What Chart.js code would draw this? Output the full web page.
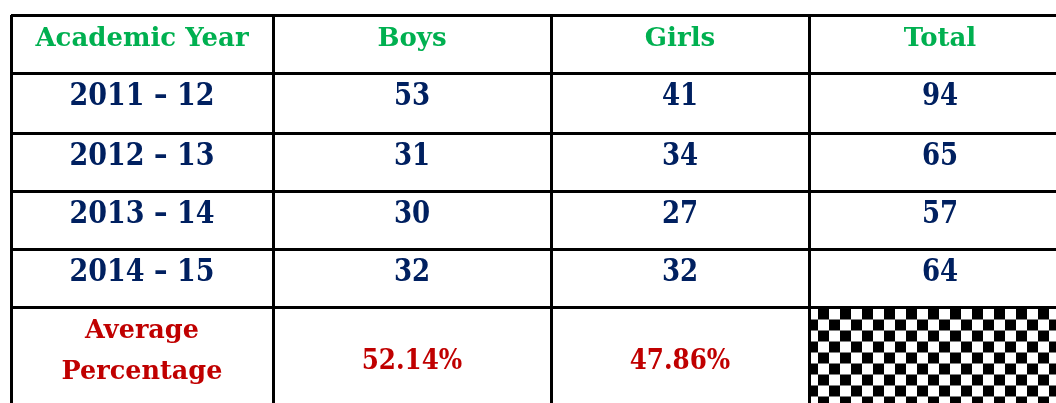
<!DOCTYPE html>
<html>
<head>
<meta charset="utf-8">
<script src="https://cdn.jsdelivr.net/npm/chart.js@4.4.1/dist/chart.umd.min.js"></script>
<style>
  html, body { margin: 0; padding: 0; background: #fff; }
  #wrap { width: 1056px; height: 403px; }
</style>
</head>
<body>
<div id="wrap"><canvas id="table"></canvas></div>
<script>
const HEADERS = ['Academic Year', 'Boys', 'Girls', 'Total'];
const YEARS = ['2011 – 12', '2012 – 13', '2013 – 14', '2014 – 15'];
const BOYS = [53, 31, 30, 32];
const GIRLS = [41, 34, 27, 32];
const TOTAL = [94, 65, 57, 64];
const AVG_LABEL = ['Average', 'Percentage'];
const AVG_PCT = ['52.14%', '47.86%'];

// table layout in px, measured from the top-left border
const COL_EDGES = [0, 262, 540, 798, 1060];
const ROW_EDGES = [0, 58, 118, 176, 234, 292.5, 396];

const GREEN = '#00B050';
const NAVY = '#002060';
const RED = '#C00000';
const FONT = '"DejaVu Serif", serif';

const colMid = (c) => (COL_EDGES[c] + COL_EDGES[c + 1]) / 2;

// one dataset = a group of cells sharing a text style
// squeeze narrows the glyphs a bit, the original font has slim digits
function cells(points, texts, color, size, baseline, squeeze = 1) {
  return {
    data: points.map(([c, r]) => ({ x: colMid(c), y: ROW_EDGES[r] })),
    texts, color, size, baseline, squeeze,
    pointRadius: 0,
  };
}

const datasets = [
  cells(HEADERS.map((_, c) => [c, 0]), HEADERS, GREEN, 26, 30.5),
  cells(YEARS.map((_, i) => [0, i + 1]), YEARS, NAVY, 31, 32, 0.87),
  cells(BOYS.map((_, i) => [1, i + 1]), BOYS, NAVY, 31, 32, 0.84),
  cells(GIRLS.map((_, i) => [2, i + 1]), GIRLS, NAVY, 31, 32, 0.84),
  cells(TOTAL.map((_, i) => [3, i + 1]), TOTAL, NAVY, 31, 32, 0.84),
  cells([[0, 5]], [AVG_LABEL], RED, 25.5, 30.5),
  cells(AVG_PCT.map((_, i) => [i + 1, 5]), AVG_PCT, RED, 28, 61.5, 0.88),
];

// checkered fill in the empty Total cell of the last row
const checker = {
  id: 'checker',
  beforeDatasetsDraw(chart) {
    const { ctx, chartArea, scales: { x, y } } = chart;
    const x0 = x.getPixelForValue(COL_EDGES[3]) - 2;
    const y0 = y.getPixelForValue(ROW_EDGES[5]) + 1;
    const sq = 11;
    ctx.save();
    ctx.beginPath();
    ctx.rect(x0 + 3, y0, chartArea.right - x0, chartArea.bottom - y0);
    ctx.clip();
    ctx.fillStyle = '#000';
    for (let r = 0; y0 + r * sq < chartArea.bottom; r++) {
      for (let c = 0; x0 + c * sq < chartArea.right; c++) {
        if ((r + c) % 2 === 1) ctx.fillRect(x0 + c * sq, y0 + r * sq, sq, sq);
      }
    }
    ctx.restore();
  },
};

const cellText = {
  id: 'cellText',
  afterDatasetsDraw(chart) {
    const { ctx } = chart;
    chart.data.datasets.forEach((ds, i) => {
      chart.getDatasetMeta(i).data.forEach((pt, j) => {
        const lines = [].concat(ds.texts[j]);
        lines.forEach((line, k) => {
          ctx.save();
          ctx.translate(pt.x, pt.y + ds.baseline + k * 41);
          ctx.scale(ds.squeeze, 1);
          ctx.font = `bold ${ds.size}px ${FONT}`;
          ctx.fillStyle = ds.color;
          ctx.textAlign = 'center';
          ctx.textBaseline = 'alphabetic';
          ctx.fillText(String(line), 0, 0);
          ctx.restore();
        });
      });
    });
  },
};

const axis = (edges, max, reverse) => ({
  type: 'linear',
  min: 0,
  max,
  reverse,
  afterBuildTicks: (s) => {
    s.ticks = edges.filter((v) => v <= max).map((v) => ({ value: v }));
  },
  ticks: { display: false },
  grid: { color: '#000', lineWidth: 3, drawTicks: false },
  border: { display: false },
});

new Chart(document.getElementById('table'), {
  type: 'scatter',
  data: { datasets },
  options: {
    responsive: true,
    maintainAspectRatio: false,
    animation: false,
    events: [],
    layout: { padding: { left: 11, top: 15, right: 0, bottom: 0 } },
    scales: {
      x: axis(COL_EDGES, 1045, false),
      y: axis(ROW_EDGES, 388, true),
    },
    plugins: {
      legend: { display: false },
      tooltip: { enabled: false },
    },
  },
  plugins: [checker, cellText],
});
</script>
</body>
</html>
